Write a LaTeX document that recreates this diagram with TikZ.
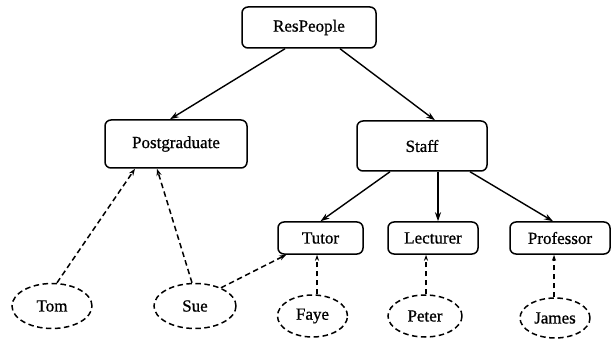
\documentclass[tikz,border=0pt]{standalone}
\usepackage{fontspec}
\setmainfont[FakeBold=0.8]{Liberation Serif}
\usetikzlibrary{arrows.meta,calc,shapes.geometric}
\begin{document}
\begin{tikzpicture}[x=1pt,y=-1pt,
  box/.style={draw,line width=1.5pt,rounded corners=6pt,font=\fontsize{17}{19}\selectfont,inner sep=0pt},
  oval/.style={draw,ellipse,line width=1.5pt,dash pattern=on 5.5pt off 3.5pt,font=\fontsize{17}{19}\selectfont,inner sep=0pt},
  solidar/.style={line width=1.4pt,-{Stealth[length=9pt,width=6pt]}},
  dashar/.style={line width=1.5pt,dash pattern=on 5.5pt off 3.5pt,-{Stealth[length=7pt,width=5pt]}},
  dashopen/.style={line width=1.5pt,dash pattern=on 5.5pt off 3.5pt,-{Stealth[open,length=6pt,width=4pt]}}]
\useasboundingbox (0,0) rectangle (613,339);
\node[box,minimum width=134pt,minimum height=41pt] (RP) at (309,27.5) {ResPeople};
\node[box,minimum width=142pt,minimum height=48pt] (PG) at (176,144) {Postgraduate};
\node[box,minimum width=130pt,minimum height=50pt] (St) at (422,146) {Staff};
\node[box,minimum width=85pt,minimum height=32pt] (Tu) at (320.5,238) {Tutor};
\node[box,minimum width=90pt,minimum height=32pt] (Le) at (433,238) {Lecturer};
\node[box,minimum width=100pt,minimum height=32pt] (Pr) at (560,238) {Professor};
\node[oval,minimum width=80pt,minimum height=45pt] (Tom) at (52,306) {Tom};
\node[oval,minimum width=82pt,minimum height=45pt] (Sue) at (195,306) {Sue};
\node[oval,minimum width=70pt,minimum height=42pt] (Fa) at (312.5,316) {Faye};
\node[oval,minimum width=74pt,minimum height=42pt] (Pe) at (425,316) {Peter};
\node[oval,minimum width=70pt,minimum height=40pt] (Ja) at (555,318) {James};
\draw[solidar] ($(RP.south)+(-24,0)$) -- ($(PG.north)+(-6,0)$);
\draw[solidar] ($(RP.south)+(31,0)$) -- ($(St.north)+(13,0)$);
\draw[solidar] ($(St.south)+(-32,0)$) -- (Tu.north);
\draw[solidar] ($(St.south)+(16,0)$) -- ($(Le.north)+(5,0)$);
\draw[solidar] ($(St.south)+(48,0)$) -- ($(Pr.north)+(-7,0)$);
\draw[dashar] ($(Tom.north)+(5,0)$) -- ($(PG.south)+(-41,0)$);
\draw[dashar] ($(Sue.north)+(-3,0)$) -- ($(PG.south)+(-19,0)$);
\draw[dashar] (Sue.35) -- ($(Tu.south west)+(9,0)$);
\coordinate (tux) at ($(Tu.south)+(-3.5,0)$);
\coordinate (lex) at ($(Le.south)+(-7,0)$);
\coordinate (prx) at ($(Pr.south)+(-6,0)$);
\draw[dashopen] (Fa.north -| tux) -- (tux);
\draw[dashopen] (Pe.north -| lex) -- (lex);
\draw[dashopen] (Ja.north -| prx) -- (prx);
\end{tikzpicture}
\end{document}
